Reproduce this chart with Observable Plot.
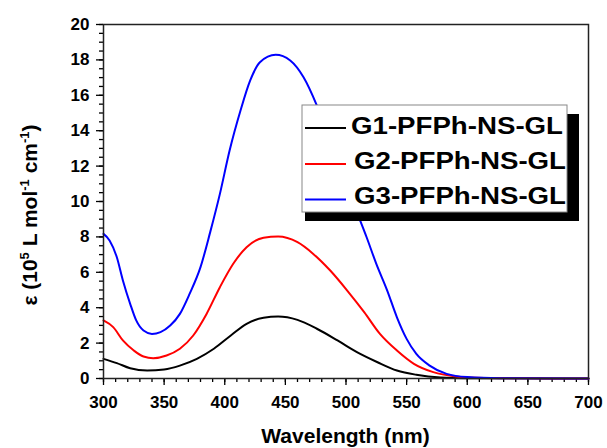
<!DOCTYPE html>
<html>
<head>
<meta charset="utf-8">
<script src="https://cdn.jsdelivr.net/npm/d3@7"></script>
<script src="https://cdn.jsdelivr.net/npm/@observablehq/plot@0.6"></script>
<style>
  html, body { margin: 0; padding: 0; background: #fff; }
  #chart svg { display: block; }
</style>
</head>
<body>
<div id="chart"></div>
<script>
// ---- data ----
const seriesNames = ["G1-PFPh-NS-GL", "G2-PFPh-NS-GL", "G3-PFPh-NS-GL"];
const seriesColors = ["#000000", "#ff0000", "#0000ff"];

const g1Wavelength = [300,311,322,336,350,363,377,391,405,418,432,444,460,476,493,509,526,542,558,578,600,630,700];
const g1Epsilon    = [1.11,0.87,0.58,0.45,0.51,0.73,1.11,1.68,2.43,3.09,3.43,3.5,3.31,2.81,2.15,1.49,0.92,0.45,0.21,0.06,0.02,0.01,0.0];

const g2Wavelength = [300,308,316,325,333,341,352,363,374,385,396,407,418,432,444,460,473,487,501,515,528,542,556,572,589,614,650,700];
const g2Epsilon    = [3.28,2.9,2.15,1.58,1.24,1.15,1.3,1.68,2.43,3.65,5.16,6.48,7.42,7.95,8.02,7.7,7.04,6.1,4.97,3.75,2.52,1.58,0.83,0.36,0.13,0.03,0.01,0.0];

const g3Wavelength = [300,305,311,316,322,327,333,340,347,355,363,371,380,388,396,404,413,421,429,442,454,465,476,485,495,502,509,517,525,534,542,550,558,569,583,600,627,700];
const g3Epsilon    = [8.17,7.8,6.85,5.54,4.22,3.28,2.71,2.52,2.62,2.99,3.65,4.78,6.29,8.27,10.43,12.88,15.14,16.84,17.87,18.29,17.97,17.02,15.42,13.8,12.0,10.7,9.4,7.98,6.48,4.97,3.46,2.24,1.39,0.73,0.26,0.08,0.02,0.0];

const xMajorTicks = [300,350,400,450,500,550,600,650,700];
const yMajorTicks = [0,2,4,6,8,10,12,14,16,18,20];
const xLabel = "Wavelength (nm)";

// ---- build table ----
const allWl = [g1Wavelength, g2Wavelength, g3Wavelength];
const allEps = [g1Epsilon, g2Epsilon, g3Epsilon];
const rows = [];
seriesNames.forEach((name, i) => {
  allWl[i].forEach((wl, j) => rows.push({series: name, wl, eps: allEps[i][j]}));
});

const xMinor = d3.range(300, 701, 10);
const yMinor = d3.range(0, 20.01, 0.5);

const font = "'Liberation Sans', Arial, sans-serif";

const chart = Plot.plot({
  width: 607,
  height: 448,
  marginLeft: 103,
  marginRight: 19,
  marginTop: 24,
  marginBottom: 70,
  style: {fontFamily: font, fontSize: "17px", fontWeight: "bold", color: "#000", background: "#fff", overflow: "visible"},
  x: {domain: [300, 700]},
  y: {domain: [0, 20]},
  color: {domain: seriesNames, range: seriesColors},
  marks: [
    Plot.axisX(xMinor, {tickSize: 4, tickFormat: () => "", label: null, strokeWidth: 1.3}),
    Plot.axisX(xMajorTicks, {tickSize: 7, tickPadding: 10, label: null, strokeWidth: 1.3, fontSize: 17, fontWeight: "bold"}),
    Plot.axisY(yMinor, {tickSize: 4, tickFormat: () => "", label: null, strokeWidth: 1.3}),
    Plot.axisY(yMajorTicks, {tickSize: 7, tickPadding: 7, label: null, strokeWidth: 1.3, fontSize: 17, fontWeight: "bold"}),
    Plot.line(rows, {x: "wl", y: "eps", z: "series", stroke: "series", curve: "monotone-x", strokeWidth: 2}),
    Plot.frame({stroke: "#222", strokeWidth: 1.5})
  ]
});

document.getElementById("chart").appendChild(chart);

const svg = d3.select(chart);

// x-axis title
svg.append("text")
  .attr("x", 345.5).attr("y", 443)
  .attr("text-anchor", "middle")
  .style("font", `bold 21px ${font}`)
  .attr("fill", "#000")
  .text(xLabel);

// y-axis title with superscripts
const yt = svg.append("text")
  .attr("transform", "translate(37,215) rotate(-90)")
  .attr("text-anchor", "middle")
  .style("font", `bold 21px ${font}`)
  .attr("fill", "#000");
yt.append("tspan").text("ε (10");
yt.append("tspan").attr("dy", -8).style("font-size", "13px").text("5");
yt.append("tspan").attr("dy", 8).text(" L mol");
yt.append("tspan").attr("dy", -8).style("font-size", "13px").text("-1");
yt.append("tspan").attr("dy", 8).text(" cm");
yt.append("tspan").attr("dy", -8).style("font-size", "13px").text("-1");
yt.append("tspan").attr("dy", 8).text(")");

// legend with drop shadow
const lg = svg.append("g").attr("text-anchor", "start");
lg.append("rect").attr("x", 305).attr("y", 114).attr("width", 274).attr("height", 107).attr("fill", "#000");
lg.append("rect").attr("x", 302).attr("y", 105).attr("width", 265).attr("height", 107)
  .attr("fill", "#fff").attr("stroke", "#888").attr("stroke-width", 1);
const lineYs = [128, 164, 199.5];
const textX = [351, 354, 354];
const baseYs = [134, 169, 204];
seriesNames.forEach((name, i) => {
  lg.append("line").attr("x1", 305).attr("x2", 346).attr("y1", lineYs[i]).attr("y2", lineYs[i])
    .attr("stroke", seriesColors[i]).attr("stroke-width", 2);
  lg.append("text").attr("x", textX[i]).attr("y", baseYs[i])
    .attr("text-anchor", "start")
    .style("font", `bold 24px ${font}`).attr("fill", "#000")
    .attr("textLength", 212).attr("lengthAdjust", "spacingAndGlyphs")
    .text(name);
});
</script>
</body>
</html>
